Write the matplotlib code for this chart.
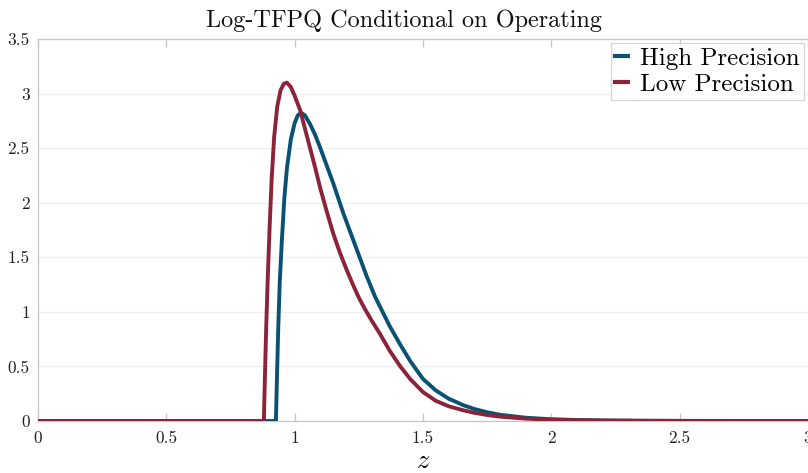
import matplotlib
matplotlib.use("Agg")
import matplotlib.pyplot as plt

# Density of log-TFPQ among operating firms, two precision settings
z_high = [0.000, 0.927, 0.931, 0.936, 0.942, 0.950, 0.960, 0.970, 0.985, 1.000,
          1.012, 1.025, 1.040, 1.060, 1.080, 1.100, 1.125, 1.150, 1.190, 1.220,
          1.250, 1.280, 1.313, 1.332, 1.370, 1.410, 1.450, 1.500, 1.550, 1.600,
          1.657, 1.700, 1.750, 1.800, 1.900, 2.000, 2.100, 2.200, 2.350, 2.500,
          3.000]
dens_high = [0.000, 0.000, 0.400, 0.850, 1.280, 1.650, 2.050, 2.320, 2.580, 2.730,
             2.800, 2.825, 2.800, 2.720, 2.620, 2.500, 2.340, 2.180, 1.900, 1.710,
             1.520, 1.330, 1.140, 1.050, 0.870, 0.705, 0.550, 0.385, 0.280, 0.205,
             0.145, 0.110, 0.080, 0.057, 0.030, 0.016, 0.009, 0.005, 0.002, 0.001,
             0.000]

z_low = [0.000, 0.880, 0.884, 0.889, 0.895, 0.902, 0.910, 0.920, 0.932, 0.945,
         0.958, 0.970, 0.985, 1.000, 1.021, 1.040, 1.060, 1.080, 1.100, 1.125,
         1.150, 1.175, 1.200, 1.225, 1.250, 1.275, 1.300, 1.332, 1.370, 1.410,
         1.450, 1.500, 1.550, 1.600, 1.657, 1.700, 1.750, 1.800, 1.900, 2.000,
         2.100, 2.200, 2.350, 2.500, 3.000]
dens_low = [0.000, 0.000, 0.400, 0.850, 1.300, 1.750, 2.200, 2.600, 2.880, 3.030,
            3.090, 3.100, 3.060, 2.980, 2.850, 2.680, 2.500, 2.320, 2.130, 1.920,
            1.720, 1.550, 1.400, 1.260, 1.130, 1.020, 0.920, 0.800, 0.645, 0.505,
            0.385, 0.265, 0.185, 0.135, 0.098, 0.075, 0.055, 0.040, 0.022, 0.012,
            0.007, 0.004, 0.002, 0.001, 0.000]

x_ticks = [0, 0.5, 1, 1.5, 2, 2.5, 3]
x_tick_labels = ["0", "0.5", "1", "1.5", "2", "2.5", "3"]
y_ticks = [0, 0.5, 1, 1.5, 2, 2.5, 3, 3.5]
y_tick_labels = ["0", "0.5", "1", "1.5", "2", "2.5", "3", "3.5"]

plt.rcParams["font.family"] = ["cmr10", "DejaVu Serif"]
plt.rcParams["mathtext.fontset"] = "cm"
plt.rcParams["axes.unicode_minus"] = False

W, H = 808, 473
fig = plt.figure(figsize=(W / 100, H / 100), dpi=100)
ax = fig.add_axes([38 / W, 1 - 421 / H, (808 - 38) / W, (421 - 39) / H])

blue = "#0a5272"
red = "#8c2439"
ax.plot(z_high, dens_high, color=blue, lw=2.8, label="High Precision", zorder=3,
        solid_joinstyle="round")
ax.plot(z_low, dens_low, color=red, lw=2.8, label="Low Precision", zorder=4,
        solid_joinstyle="round")

ax.set_xlim(0, 3)
ax.set_ylim(0, 3.5)
ax.set_xticks(x_ticks)
ax.set_xticklabels(x_tick_labels)
ax.set_yticks(y_ticks)
ax.set_yticklabels(y_tick_labels)

spine_col = "#c6c6c6"
for side in ["left", "top", "bottom"]:
    ax.spines[side].set_color(spine_col)
    ax.spines[side].set_linewidth(0.9)
ax.spines["right"].set_visible(False)

ax.grid(axis="y", color="#efefef", lw=0.9)
ax.set_axisbelow(True)
ax.tick_params(axis="x", direction="in", length=6, width=0.9, color=spine_col,
               top=True, labelsize=12.5, pad=7, labelcolor="#222222")
ax.tick_params(axis="y", direction="in", length=0, labelsize=12.5, pad=6,
               labelcolor="#222222")

ax.set_xlabel(r"$z$", fontsize=19, labelpad=2)
fig.text(0.5, 1 - 27.5 / H, "Log-TFPQ Conditional on Operating", ha="center",
         va="baseline", fontsize=17.5, color="#111111")

leg = ax.legend(loc="upper right", fontsize=18, frameon=True, fancybox=False,
                handlelength=0.5, handletextpad=0.5, borderpad=0.18,
                labelspacing=0.15, borderaxespad=0.15)
leg.get_frame().set_edgecolor("#cccccc")
leg.get_frame().set_linewidth(0.9)
for line in leg.get_lines():
    line.set_linewidth(3.0)

fig.savefig("out.png", dpi=100)
